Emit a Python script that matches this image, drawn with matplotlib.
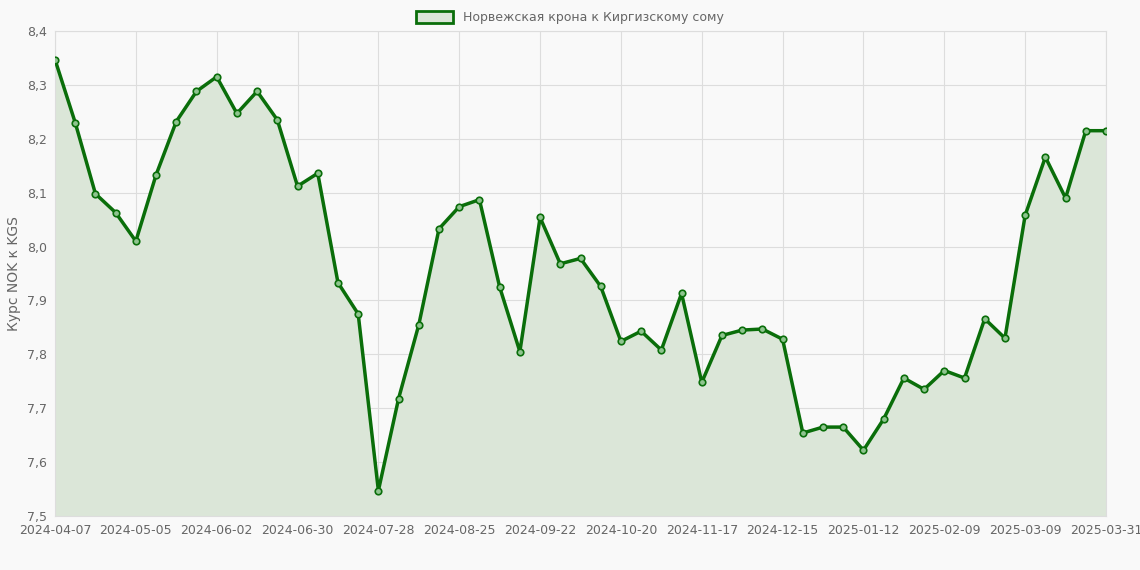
import matplotlib.pyplot as plt

values = [8.347, 8.23, 8.098, 8.063, 8.01, 8.133, 8.232, 8.288, 8.315, 8.247,
          8.288, 8.235, 8.112, 8.136, 7.933, 7.875, 7.547, 7.718, 7.855, 8.033,
          8.074, 8.087, 7.925, 7.805, 8.054, 7.968, 7.978, 7.926, 7.824, 7.843,
          7.808, 7.913, 7.748, 7.835, 7.845, 7.847, 7.828, 7.654, 7.665, 7.665,
          7.622, 7.68, 7.756, 7.735, 7.77, 7.756, 7.866, 7.83, 8.058, 8.166,
          8.09, 8.215, 8.215]
tick_pos = [0, 4, 8, 12, 16, 20, 24, 28, 32, 36, 40, 44, 48, 52]
tick_labels = ["2024-04-07", "2024-05-05", "2024-06-02", "2024-06-30", "2024-07-28",
               "2024-08-25", "2024-09-22", "2024-10-20", "2024-11-17", "2024-12-15",
               "2025-01-12", "2025-02-09", "2025-03-09", "2025-03-31"]
label = "Норвежская крона к Киргизскому сому"

bg = "#f9f9f9"
green = "#0a6e0a"
fig = plt.figure(figsize=(11.4, 5.7), dpi=100, facecolor=bg)
ax = fig.add_axes([55 / 1140, 1 - 516 / 570, (1106 - 55) / 1140, (516 - 31) / 570])
ax.set_facecolor(bg)
x = list(range(len(values)))
ax.fill_between(x, values, 7.5, color="#dbe6d8", zorder=1)
ax.plot(x, values, color=green, lw=2.5, zorder=3, label=label)
ax.scatter(x, values, s=22, facecolor="#8fc48f", edgecolor=green, lw=1.2, zorder=4)
ax.set_xlim(0, 52)
ax.set_ylim(7.5, 8.4)
ax.set_xticks(tick_pos)
ax.set_xticklabels(tick_labels)
ax.set_yticks([7.5 + 0.1 * i for i in range(10)])
ax.set_yticklabels([f"{7.5 + 0.1 * i:.1f}".replace(".", ",") for i in range(10)])
ax.grid(color="#dddddd", lw=0.8)
ax.set_axisbelow(True)
for s in ax.spines.values():
    s.set_color("#dddddd")
ax.tick_params(colors="#666666", labelsize=9, length=0, pad=6)
ax.set_ylabel("Курс NOK к KGS", color="#666666", fontsize=10)
h = plt.Rectangle((0, 0), 1, 1, facecolor="#dbe6d8", edgecolor=green, lw=2)
fig.legend([h], [label], loc="upper center", bbox_to_anchor=(0.5, 1.0), frameon=False,
           fontsize=9, labelcolor="#666666", handlelength=3, handleheight=1)
fig.savefig("out.png", dpi=100, facecolor=bg)
